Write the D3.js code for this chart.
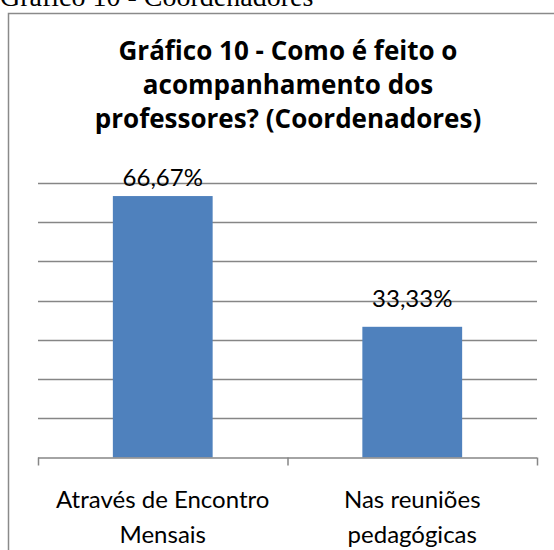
<!DOCTYPE html>
<html>
<head>
<meta charset="utf-8">
<script src="https://cdn.jsdelivr.net/npm/d3@7"></script>
<style>
body { margin: 0; background: #fff; overflow: hidden; }
svg { display: block; }
</style>
</head>
<body>
<script>
// data
var categories = [["Através de Encontro", "Mensais"], ["Nas reuniões", "pedagógicas"]];
var values = [66.67, 33.33];
var valueLabels = ["66,67%", "33,33%"];
var yTicks = [0, 10, 20, 30, 40, 50, 60, 70];
var titleLines = ["Gráfico 10 - Como é feito o", "acompanhamento dos", "professores? (Coordenadores)"];
var caption = "Gráfico 10 - Coordenadores";

var W = 554, H = 550;
var margin = {top: 183, right: 17, bottom: 92.5, left: 38},
    width = W - margin.left - margin.right,
    height = H - margin.top - margin.bottom;

var svg = d3.select("body").append("svg")
    .attr("width", W)
    .attr("height", H);

// caption above the frame
svg.append("text")
    .attr("x", 0)
    .attr("y", 6)
    .style("font-family", "'Liberation Serif', 'Times New Roman', serif")
    .style("font-size", "28px")
    .style("fill", "#000")
    .text(caption);

// chart frame (only left and top visible)
svg.append("path")
    .attr("d", "M8.5," + H + "V13.5H" + W)
    .attr("fill", "none")
    .attr("stroke", "#8a8a8a")
    .attr("stroke-width", 1.5);

// title
svg.append("g").selectAll("text")
    .data(titleLines)
    .enter().append("text")
    .attr("x", 288)
    .attr("y", function(d, i) { return 60 + i * 34; })
    .style("text-anchor", "middle")
    .style("font-family", "'Open Sans', Lato, sans-serif")
    .style("font-weight", "bold")
    .style("font-size", "26px")
    .style("fill", "#000")
    .text(function(d) { return d; });

var g = svg.append("g")
    .attr("transform", "translate(" + margin.left + "," + margin.top + ")");

var x = d3.scaleBand()
    .domain(d3.range(values.length))
    .range([0, width])
    .paddingInner(0.6)
    .paddingOuter(0.3);

var y = d3.scaleLinear()
    .domain([0, 70])
    .range([height, 0]);

// gridlines
g.selectAll(".grid")
    .data(yTicks.slice(1))
    .enter().append("line")
    .attr("class", "grid")
    .attr("x1", 0)
    .attr("x2", width)
    .attr("y1", function(d) { return Math.round(y(d)) + 0.5; })
    .attr("y2", function(d) { return Math.round(y(d)) + 0.5; })
    .attr("stroke", "#868686")
    .attr("stroke-width", 1.5);

// bars
g.selectAll(".bar")
    .data(values)
    .enter().append("rect")
    .attr("class", "bar")
    .attr("x", function(d, i) { return x(i); })
    .attr("y", function(d) { return y(d); })
    .attr("width", x.bandwidth())
    .attr("height", function(d) { return height - y(d); })
    .attr("fill", "#4f81bd");

// x axis: baseline with tick marks between categories
var xAxis = d3.axisBottom(d3.scaleLinear().domain([0, values.length]).range([0, width]))
    .ticks(values.length)
    .tickSize(8)
    .tickFormat("");

g.append("g")
    .attr("class", "x axis")
    .attr("transform", "translate(0," + height + ")")
    .call(xAxis)
    .call(function(s) {
        s.selectAll("path, line").attr("stroke", "#868686").attr("stroke-width", 1.5);
        s.select(".domain").attr("d", "M0,0.5H" + width);
    });

// value labels (kept inside the plot area like the original)
g.selectAll(".vlabel")
    .data(values)
    .enter().append("text")
    .attr("class", "vlabel")
    .attr("x", function(d, i) { return x(i) + x.bandwidth() / 2; })
    .attr("y", function(d) { return Math.max(y(d) - 20, 3); })
    .style("text-anchor", "middle")
    .style("font-family", "Lato, 'Open Sans', sans-serif")
    .style("font-size", "24px")
    .style("fill", "#000")
    .text(function(d, i) { return valueLabels[i]; });

// category labels
var cat = g.selectAll(".cat")
    .data(categories)
    .enter().append("text")
    .attr("class", "cat")
    .attr("x", function(d, i) { return x(i) + x.bandwidth() / 2; })
    .attr("y", height + 50)
    .style("text-anchor", "middle")
    .style("font-family", "Lato, 'Open Sans', sans-serif")
    .style("font-size", "24px")
    .style("fill", "#000");

cat.selectAll("tspan")
    .data(function(d) { return d; })
    .enter().append("tspan")
    .attr("x", function() { return d3.select(this.parentNode).attr("x"); })
    .attr("dy", function(d, i) { return i === 0 ? 0 : 35; })
    .text(function(d) { return d; });
</script>
</body>
</html>
